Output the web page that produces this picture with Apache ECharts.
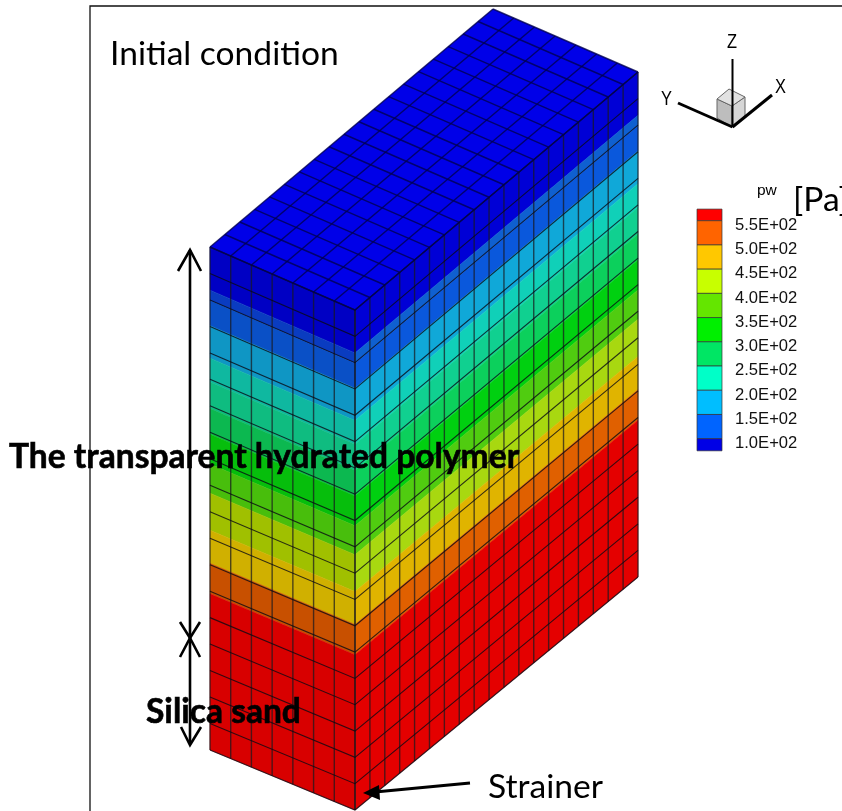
<!DOCTYPE html>
<html>
<head>
<meta charset="utf-8">
<style>html,body{margin:0;padding:0;background:#fff}#c{width:842px;height:811px}</style>
<script src="https://cdn.jsdelivr.net/npm/echarts@6/dist/echarts.min.js"></script>
</head>
<body>
<div id="c"></div>
<script>
// ---- data: pressure levels and the contour bands
const legendLevels = [550, 500, 450, 400, 350, 300, 250, 200, 150, 100];
const legendLabels = ['5.5E+02','5.0E+02','4.5E+02','4.0E+02','3.5E+02','3.0E+02','2.5E+02','2.0E+02','1.5E+02','1.0E+02'];
const legendColors = ['#FF0000','#FF6400','#FFC800','#C8FF00','#64E600','#00F000','#00E664','#00FFC8','#00BEFF','#0064FF','#0000E6'];
// depth of each contour band's lower edge, in mesh rows below the top surface
const bandDepths = [1.63, 2.02, 2.97, 4.2, 5.1, 6.1, 7.07, 8.2, 9.3, 10.7, 11.95, 13.1, 19];
const bandLeft  = ['#0000C4','#0A3CC0','#0A50C6','#0F96C4','#0FB8A0','#0FBC80','#0CB850','#06BE0C','#48BE0C','#A0C000','#D0B000','#C85000','#D80000'];
const bandRight = ['#0000D6','#0F60D0','#0A58DC','#10A8D8','#10D0B8','#10D090','#0CD05C','#00D010','#50CC10','#A8D810','#E0B400','#E06000','#E40000'];
const topColor = '#0000E8';
const meshCellsU = 7, meshCellsV = 19, meshCellsZ = 19;
const texts = ['Initial condition','The transparent hydrated polymer','Silica sand','Strainer','[Pa]','pw','Z','Y','X'];

// ---- layout
const L = {
  leftTop:[210,247], leftBot:[210,750], frontTop:[355,310], frontBot:[355,810],
  rightTop:[638,72], rightBot:[638,577],
  legend:{x0:697, x1:722, p100:438.7, pxPerPa:0.4844, label:735, labelShift:4.7},
};
const lerp=(a,b,t)=>[a[0]+(b[0]-a[0])*t,a[1]+(b[1]-a[1])*t];
const leftP=(u,z)=>lerp(lerp(L.leftTop,L.frontTop,u/meshCellsU),lerp(L.leftBot,L.frontBot,u/meshCellsU),z/meshCellsZ);
const rightP=(v,z)=>lerp(lerp(L.frontTop,L.rightTop,v/meshCellsV),lerp(L.frontBot,L.rightBot,v/meshCellsV),z/meshCellsZ);
const topP=(u,v)=>{
  const a=lerp(L.leftTop,L.frontTop,u/meshCellsU);
  const d=[(L.rightTop[0]-L.frontTop[0])*v/meshCellsV,(L.rightTop[1]-L.frontTop[1])*v/meshCellsV];
  return [a[0]+d[0],a[1]+d[1]];
};

const faceData=[];
bandDepths.forEach((d,i)=>{faceData.push([0,i]);faceData.push([1,i]);});
faceData.push([2,0]);

const meshData=[];
for(let i=0;i<=meshCellsU;i++)meshData.push([0,i]);
for(let i=0;i<=meshCellsV;i++)meshData.push([1,i]);
for(let i=0;i<=meshCellsZ;i++)meshData.push([2,i]);
for(let i=0;i<=meshCellsU;i++)meshData.push([3,i]);
for(let i=0;i<=meshCellsV;i++)meshData.push([4,i]);

const lineAnn=[
  {p:[[90,811],[90,6],[842,6]],w:1.3,c:'#111'},
  {p:[[190,250],[190,638]],w:2.6,c:'#000'},
  {p:[[178,271],[190,250],[201,271]],w:2.6,c:'#000'},
  {p:[[180,622],[190,638],[200,622]],w:2.6,c:'#000'},
  {p:[[190,638],[190,744]],w:2.6,c:'#000'},
  {p:[[180,657],[190,638],[200,657]],w:2.6,c:'#000'},
  {p:[[181,727],[190,745],[201,727]],w:2.6,c:'#000'},
  {p:[[470,783],[375,792]],w:3,c:'#000'},
  {p:[[732.5,59],[732.5,127]],w:2,c:'#000'},
  {p:[[678,103],[732.5,127]],w:3,c:'#000'},
  {p:[[772,95],[732.5,127]],w:3,c:'#000'},
];
const polyAnn=[
  {p:[[363,793],[379,785],[380,800]],f:'#000'},
];
const cubeAnn=[
  {p:[[717,99],[732,106],[732,127],[717,118]],f:'#BDBDBD'},
  {p:[[732,106],[745,97],[745,117],[732,127]],f:'#D6D6D6'},
  {p:[[717,99],[729,89],[745,97],[732,106]],f:'#E2E2E2'},
];
const textAnn=[
  {t:0,x:110,y:54,s:33.6,f:'Lato',w:400,sx:1,lw:0},
  {t:1,x:9,y:457,s:33.6,f:'Lato',w:700,sx:1,lw:0.6},
  {t:2,x:146,y:712,s:33.6,f:'Lato',w:700,sx:1,lw:0.6},
  {t:3,x:488,y:787,s:33.6,f:'Lato',w:400,sx:1,lw:0},
  {t:4,x:793,y:200,s:33.6,f:'Lato',w:400,sx:1,lw:0},
  {t:5,x:757,y:191,s:15.5,f:'Liberation Sans',w:400,sx:1,lw:0},
  {t:6,x:727,y:42,s:20,f:'Liberation Sans',w:400,sx:0.82,lw:0},
  {t:7,x:661,y:99,s:20,f:'Liberation Sans',w:400,sx:0.82,lw:0},
  {t:8,x:775,y:87,s:20,f:'Liberation Sans',w:400,sx:0.82,lw:0},
];

const pts=(api,arr)=>arr.map(p=>api.coord(p));
const pwY=v=>L.legend.p100-(v-100)*L.legend.pxPerPa;

const option={
  animation:false,
  backgroundColor:'#fff',
  grid:{left:0,right:0,top:0,bottom:0},
  xAxis:{type:'value',min:0,max:842,show:false},
  yAxis:{type:'value',min:0,max:811,inverse:true,show:false},
  series:[
    {type:'custom',clip:false,silent:true,coordinateSystem:'cartesian2d',data:faceData,
     renderItem(params,api){
       const face=api.value(0),b=api.value(1);
       if(face===2){
         return {type:'polygon',shape:{points:pts(api,[topP(0,0),topP(meshCellsU,0),topP(meshCellsU,meshCellsV),topP(0,meshCellsV)])},style:{fill:topColor}};
       }
       const z0=b===0?0:bandDepths[b-1], z1=bandDepths[b];
       const P=face===0?(s,z)=>leftP(s*meshCellsU,z):(s,z)=>rightP(s*meshCellsV,z);
       return {type:'polygon',shape:{points:pts(api,[P(0,z0),P(1,z0),P(1,z1),P(0,z1)])},
         style:{fill:(face===0?bandLeft:bandRight)[b],stroke:(face===0?bandLeft:bandRight)[b],lineWidth:0.5}};
     }},
    {type:'custom',clip:false,silent:true,coordinateSystem:'cartesian2d',data:meshData,
     renderItem(params,api){
       const k=api.value(0),i=api.value(1);
       let a,b;
       if(k===0){a=leftP(i,0);b=leftP(i,meshCellsZ);}
       else if(k===1){a=rightP(i,0);b=rightP(i,meshCellsZ);}
       else if(k===2){
         return {type:'polyline',shape:{points:pts(api,[leftP(0,i),leftP(meshCellsU,i),rightP(meshCellsV,i)])},
           style:{stroke:'rgba(10,10,20,0.8)',lineWidth:1.1,fill:null}};
       }
       else if(k===3){a=topP(i,0);b=topP(i,meshCellsV);}
       else {a=topP(0,i);b=topP(meshCellsU,i);}
       const top=k>=3;
       return {type:'line',shape:{x1:api.coord(a)[0],y1:api.coord(a)[1],x2:api.coord(b)[0],y2:api.coord(b)[1]},
         style:{stroke:top?'rgba(0,0,80,0.8)':'rgba(25,25,30,0.72)',lineWidth:top?1.5:1.4}};
     }},
    {type:'custom',clip:false,silent:true,coordinateSystem:'cartesian2d',data:legendColors.map((c,i)=>[i]),
     renderItem(params,api){
       const i=api.value(0);
       const top=i===0?pwY(574):pwY(legendLevels[i-1]);
       const bot=i===legendLevels.length?pwY(75):pwY(legendLevels[i]);
       const a=api.coord([L.legend.x0,top]),b=api.coord([L.legend.x1,bot]);
       return {type:'rect',shape:{x:a[0],y:a[1],width:b[0]-a[0],height:b[1]-a[1]},
         style:{fill:legendColors[i],stroke:'#333',lineWidth:0.7}};
     }},
    {type:'custom',clip:false,silent:true,coordinateSystem:'cartesian2d',data:legendLabels.map((c,i)=>[i]),
     renderItem(params,api){
       const i=api.value(0);
       const a=api.coord([L.legend.label,pwY(legendLevels[i])+L.legend.labelShift]);
       return {type:'text',style:{text:legendLabels[i],x:a[0],y:a[1],font:'16.6px "Liberation Sans"',fill:'#111',verticalAlign:'middle',align:'left'}};
     }},
    {type:'custom',clip:false,silent:true,coordinateSystem:'cartesian2d',data:cubeAnn.map((c,i)=>[i]),z:3,
     renderItem(params,api){
       const c=cubeAnn[api.value(0)];
       return {type:'polygon',shape:{points:pts(api,c.p)},style:{fill:c.f,stroke:'#666',lineWidth:1}};
     }},
    {type:'custom',clip:false,silent:true,coordinateSystem:'cartesian2d',data:lineAnn.map((c,i)=>[i]),z:4,
     renderItem(params,api){
       const c=lineAnn[api.value(0)];
       return {type:'polyline',shape:{points:pts(api,c.p)},style:{stroke:c.c,lineWidth:c.w,fill:null}};
     }},
    {type:'custom',clip:false,silent:true,coordinateSystem:'cartesian2d',data:polyAnn.map((c,i)=>[i]),z:4,
     renderItem(params,api){
       const c=polyAnn[api.value(0)];
       return {type:'polygon',shape:{points:pts(api,c.p)},style:{fill:c.f}};
     }},
    {type:'custom',clip:false,silent:true,coordinateSystem:'cartesian2d',data:textAnn.map((c,i)=>[i]),z:5,
     renderItem(params,api){
       const c=textAnn[api.value(0)];
       const a=api.coord([c.x,c.y]);
       return {type:'text',x:a[0],y:a[1],scaleX:c.sx,scaleY:1,
         style:{text:texts[c.t],x:0,y:0,font:`${c.w} ${c.s}px "${c.f}"`,fill:'#000',
           stroke:c.lw?'#000':null,lineWidth:c.lw,verticalAlign:'middle',align:'left'}};
     }},
  ]
};
const chart=echarts.init(document.getElementById('c'),null,{renderer:'canvas'});
chart.setOption(option);
</script>
</body>
</html>
